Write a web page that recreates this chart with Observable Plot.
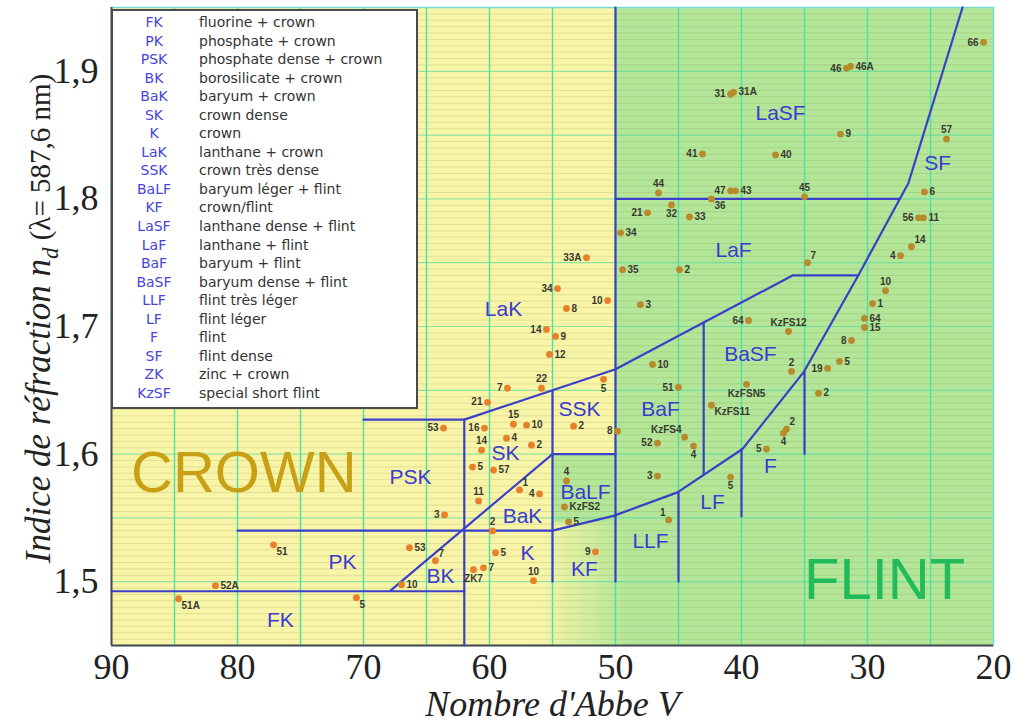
<!DOCTYPE html>
<html>
<head>
<meta charset="utf-8">
<script src="https://cdn.jsdelivr.net/npm/d3@7"></script>
<script src="https://cdn.jsdelivr.net/npm/@observablehq/plot@0.6"></script>
<style>
  body { margin: 0; background: #fff; }
  #wrap { position: relative; width: 1015px; height: 724px; }
  #legend {
    position: absolute; left: 111px; top: 9px; width: 303px; height: 394px;
    background: #fff; border: 2px solid #4a4a4a;
    font-family: "DejaVu Sans", sans-serif; font-size: 14px;
    padding-top: 2px; box-sizing: content-box;
  }
  #legend .row { display: flex; height: 18.55px; line-height: 18.55px; white-space: nowrap; }
  #legend .code { width: 82px; text-align: center; color: #4545da; }
  #legend .desc { padding-left: 4px; color: #333; }
</style>
</head>
<body>
<div id="wrap"></div>
<script>
// ---------------- DATA ----------------
const abbeTicks = [90, 80, 70, 60, 50, 40, 30, 20];
const ndTicks = [1.5, 1.6, 1.7, 1.8, 1.9];
const abbeDomain = [90, 20];
const ndDomain = [1.45, 1.95];

const glassLabel = ["51A","52A","51","5","10","53","7","53","3","ZK7",
  "7","5","10","2","11","1","4","5","57","14",
  "16","15","10","4","2","21","7","22","5","2",
  "8","4","KzFS2","5","9","1","3","52","KzFS4","4",
  "10","51","5","5","4","2","KzFS11","KzFSN5","2","KzFS12",
  "64","2","19","5","8","15","64","1","10","4",
  "14","56","11","6","57","66","46","46A","31","31A",
  "9","41","40","44","47","43","45","36","32","21",
  "33","34","35","2","3","7","33A","34","10","8",
  "14","9","12"];
const glassV = [84.68,81.75,77.14,70.56,66.98,66.35,64.29,63.65,63.57,61.27,
  60.48,59.52,56.51,59.76,60.87,57.62,56.03,61.35,59.68,60.63,
  60.40,58.10,57.06,58.65,56.67,60.16,58.57,55.87,50.95,53.33,
  49.84,53.89,54.05,53.73,51.59,45.79,46.67,46.67,44.52,43.81,
  47.06,45.00,40.87,38.02,36.67,36.43,42.38,39.60,36.03,36.27,
  39.44,33.89,33.17,32.22,31.27,30.24,30.24,29.60,28.57,27.38,
  26.51,25.95,25.56,25.48,23.73,20.79,31.67,31.35,40.87,40.63,
  32.14,43.10,37.30,46.59,40.87,40.48,35.00,42.38,45.56,47.46,
  44.13,49.60,49.44,44.92,48.02,34.76,52.30,54.60,50.63,53.89,
  55.48,54.76,55.24];
const glassN = [1.4867,1.4969,1.5289,1.4875,1.4977,1.5266,1.5164,1.6203,1.5523,1.5094,
  1.5109,1.5227,1.5008,1.5398,1.5633,1.5719,1.5688,1.5898,1.5875,1.6031,
  1.6203,1.6234,1.6227,1.6125,1.6070,1.6406,1.6516,1.6516,1.6586,1.6219,
  1.6180,1.5789,1.5586,1.5469,1.5234,1.5484,1.5828,1.6086,1.6133,1.6063,
  1.6703,1.6523,1.5820,1.6039,1.6164,1.6195,1.6383,1.6547,1.6648,1.6961,
  1.7047,1.6477,1.6672,1.6727,1.6891,1.6992,1.7063,1.7180,1.7281,1.7555,
  1.7625,1.7852,1.7852,1.8055,1.8469,1.9227,1.9023,1.9039,1.8820,1.8836,
  1.8508,1.8352,1.8344,1.8047,1.8063,1.8063,1.8016,1.8000,1.7953,1.7891,
  1.7859,1.7734,1.7445,1.7445,1.7172,1.7500,1.7539,1.7297,1.7203,1.7141,
  1.6977,1.6922,1.6781];

const regionName = ["FK","PK","PSK","BK","SK","BaK","K","KF","BaLF","SSK","BaF","LLF","LF","F","BaSF","LaK","LaF","LaSF","SF"];
const regionV = [76.59,71.67,66.27,63.89,58.73,57.38,56.98,52.46,52.38,52.86,46.43,47.22,42.30,37.70,39.29,58.89,40.63,36.90,24.44];
const regionN = [1.4695,1.5156,1.5820,1.5040,1.6005,1.5516,1.5219,1.5094,1.5703,1.6352,1.6352,1.5313,1.5625,1.5906,1.6781,1.7133,1.7594,1.8672,1.8281];

const familyName = ["CROWN", "FLINT"];
const familyV = [79.5, 28.65];
const familyN = [1.5852, 1.5008];

// region boundaries, as [Abbe V, n_d] vertices
const boundaryLines = [
  [[90,1.4925],[62,1.4925]],
  [[62,1.45],[62,1.627]],
  [[70,1.627],[62,1.627],[50,1.6665],[35.95,1.740],[30.8,1.740]],
  [[80,1.540],[55,1.540]],
  [[55,1.540],[50.16,1.5516],[45.08,1.570],[39.92,1.604],[35.08,1.664],[30.79,1.739],[26.75,1.8125],[22.46,1.95]],
  [[55,1.5],[55,1.649]],
  [[50,1.5],[50,1.95]],
  [[45,1.5],[45,1.570]],
  [[43,1.584],[43,1.703]],
  [[40,1.551],[40,1.604]],
  [[35,1.6],[35,1.664]],
  [[55,1.6],[50,1.6]],
  [[67.86,1.493],[55,1.6]],
  [[50,1.8],[27.44,1.8]]
];

// background zones [V1, V2, n1, n2]
const crownZone = [90, 20, 1.45, 1.95];
const flintZones = [[50, 20, 1.45, 1.95], [55, 50, 1.54, 1.6]];
const blendZone = [56, 49, 1.45, 1.546];

const legendCode = ["FK","PK","PSK","BK","BaK","SK","K","LaK","SSK","BaLF","KF","LaSF","LaF","BaF","BaSF","LLF","LF","F","SF","ZK","KzSF"];
const legendText = ["fluorine + crown","phosphate + crown","phosphate dense + crown","borosilicate + crown","baryum + crown","crown dense","crown","lanthane + crown","crown très dense","baryum léger + flint","crown/flint","lanthane dense + flint","lanthane + flint","baryum + flint","baryum dense + flint","flint très léger","flint léger","flint","flint dense","zinc + crown","special short flint"];

const xLabel = "Nombre d'Abbe V";

// ---------------- RENDER ----------------
const labelSide = ["br","r","br","br","r","r","tr","l","l","b",
  "r","r","t","t","t","tr","l","r","r","t",
  "l","t","r","r","r","l","l","t","b","r",
  "l","t","r","r","l","tl","l","l","tl","b",
  "r","l","b","l","b","tr","br","b","t","t",
  "l","r","l","r","l","r","r","r","t","l",
  "tr","l","r","r","t","l","l","r","l","r",
  "r","l","r","t","l","r","t","br","b","l",
  "r","r","r","r","r","tr","l","l","l","r",
  "l","r","r"];

const glasses = glassLabel.map((label, i) => ({label, V: glassV[i], n: glassN[i], side: labelSide[i]}));
const regions = regionName.map((name, i) => ({name, V: regionV[i], n: regionN[i]}));
const families = familyName.map((name, i) => ({name, V: familyV[i], n: familyN[i]}));
const boundaryPts = boundaryLines.flatMap((line, id) => line.map(([V, n]) => ({id, V, n})));
const zoneRect = z => ({x1: z[0], x2: z[1], y1: z[2], y2: z[3]});

const yellow = "#f8f5a9", green = "#b3e699";
const inFlint = d => d.V <= 50.3 || (d.V <= 55 && d.n >= 1.54 && d.n <= 1.6);

const sides = {
  r:  {dx: 5, dy: 0, textAnchor: "start"},
  l:  {dx: -5, dy: 0, textAnchor: "end"},
  t:  {dx: 0, dy: -9, textAnchor: "middle"},
  b:  {dx: 0, dy: 9, textAnchor: "middle"},
  tr: {dx: 3, dy: -7, textAnchor: "start"},
  br: {dx: 3, dy: 7, textAnchor: "start"},
  tl: {dx: -3, dy: -7, textAnchor: "end"}
};
const labelMarks = Object.entries(sides).map(([k, o]) =>
  Plot.text(glasses.filter(d => d.side === k), {
    x: "V", y: "n", text: "label", ...o,
    fontSize: 10, fontWeight: "bold", fontFamily: "Liberation Sans", fill: "#3a3a30"
  }));

const gradientDefs = () => {
  const defs = d3.create("svg:defs");
  const g = defs.append("linearGradient").attr("id", "blend")
    .attr("x1", "0").attr("x2", "1").attr("y1", "0").attr("y2", "0");
  g.append("stop").attr("offset", "0").attr("stop-color", yellow);
  g.append("stop").attr("offset", "1").attr("stop-color", green);
  return defs.node();
};

const fmt = d => String(d).replace(".", ",");
const serif = "Liberation Serif";

const plot = Plot.plot({
  width: 1015,
  height: 724,
  marginLeft: 111,
  marginRight: 22,
  marginTop: 7,
  marginBottom: 79,
  x: {domain: abbeDomain},
  y: {domain: ndDomain},
  style: {background: "white", fontFamily: "Liberation Sans", overflow: "visible"},
  marks: [
    gradientDefs,
    Plot.rect([zoneRect(crownZone)], {x1: "x1", x2: "x2", y1: "y1", y2: "y2", fill: yellow}),
    Plot.rect(flintZones.map(zoneRect), {x1: "x1", x2: "x2", y1: "y1", y2: "y2", fill: green}),
    Plot.rect([zoneRect(blendZone)], {x1: "x1", x2: "x2", y1: "y1", y2: "y2", fill: "url(#blend)"}),
    Plot.ruleY(d3.range(1451, 1950, 5).map(d => (d + 4) / 1000).filter(d => Math.round(d * 1000) % 50 !== 0),
      {stroke: "#6f6f10", strokeOpacity: 0.16, strokeWidth: 1}),
    Plot.ruleY(d3.range(1.5, 1.95, 0.05), {stroke: "#3fd19a", strokeOpacity: 0.55, strokeWidth: 1.2}),
    Plot.ruleX(d3.range(85, 24, -5), {stroke: "#4edfa6", strokeWidth: 1.4}),
    Plot.frame({stroke: "#74dccb", strokeWidth: 1.5}),
    Plot.ruleX([abbeDomain[0]], {stroke: "#4a4a4a", strokeWidth: 2}),
    Plot.ruleY([ndDomain[0]], {stroke: "#4a4a4a", strokeWidth: 2}),
    Plot.line(boundaryPts, {x: "V", y: "n", z: "id", stroke: "#3a3fc9", strokeWidth: 2.2}),
    Plot.text(families.filter(d => d.name === "CROWN"), {x: "V", y: "n", text: "name", fontSize: 58, fontFamily: "Liberation Sans", fill: "#c9a015"}),
    Plot.text(families.filter(d => d.name === "FLINT"), {x: "V", y: "n", text: "name", fontSize: 58, fontFamily: "Liberation Sans", fill: "#22bb5a"}),
    Plot.text(regions, {x: "V", y: "n", text: "name", fontSize: 21, fontFamily: "Liberation Sans", fill: "#3b3bd2"}),
    Plot.dot(glasses.filter(d => !inFlint(d)), {x: "V", y: "n", r: 3.4, fill: "#e8802a"}),
    Plot.dot(glasses.filter(inFlint), {x: "V", y: "n", r: 3.4, fill: "#b98a2c"}),
    ...labelMarks,
    Plot.axisX({ticks: abbeTicks, tickSize: 0, tickPadding: 8, fontSize: 36, fontFamily: serif, fill: "#222", label: null}),
    Plot.axisY({ticks: ndTicks, tickFormat: fmt, tickSize: 0, tickPadding: 13, fontSize: 36, fontFamily: serif, fill: "#222", label: null}),
    Plot.text([xLabel], {frameAnchor: "bottom", lineAnchor: "middle", textAnchor: "middle", dy: 59, fontSize: 36, fontFamily: serif, fontStyle: "italic", fill: "#222"}),
    Plot.text(["YLABEL"], {frameAnchor: "left", lineAnchor: "middle", textAnchor: "middle", dx: -73, dy: -8, rotate: -90, fontSize: 35, fontFamily: serif, fill: "#222"})
  ]
});

document.getElementById("wrap").appendChild(plot);

// y-axis title with italic part and subscript
d3.select(plot).selectAll("text").filter(function() { return this.textContent === "YLABEL"; })
  .each(function() {
    const t = d3.select(this).text(null).attr("text-anchor", "middle");
    t.append("tspan").attr("font-style", "italic").text("Indice de réfraction ");
    t.append("tspan").attr("font-style", "italic").text("n");
    t.append("tspan").attr("font-style", "italic").attr("font-size", "23").attr("baseline-shift", "-8").text("d");
    t.append("tspan").attr("font-size", "29").text(" (λ= 587,6 nm)");
  });

// legend box (overlaid in the upper-left corner of the plot)
const legend = document.createElement("div");
legend.id = "legend";
legendCode.forEach((c, i) => {
  const row = document.createElement("div");
  row.className = "row";
  const a = document.createElement("span"); a.className = "code"; a.textContent = c;
  const b = document.createElement("span"); b.className = "desc"; b.textContent = legendText[i];
  row.appendChild(a); row.appendChild(b);
  legend.appendChild(row);
});
document.getElementById("wrap").appendChild(legend);
</script>
</body>
</html>
